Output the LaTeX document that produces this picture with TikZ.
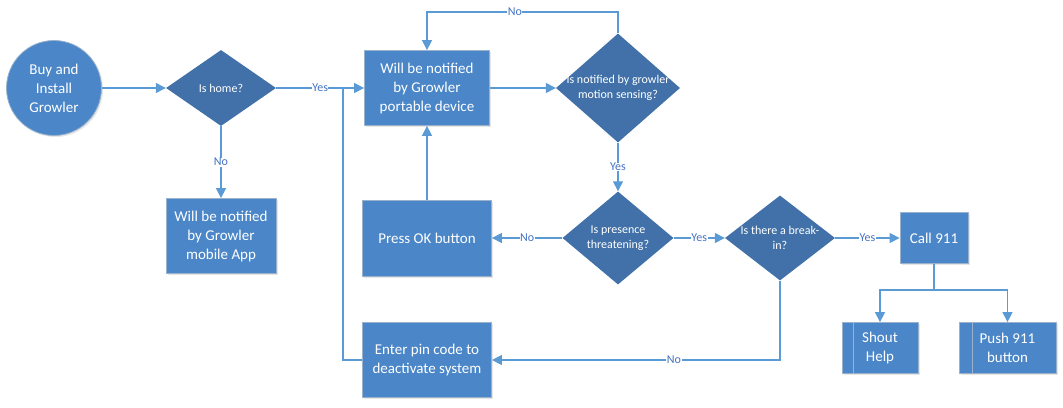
\documentclass[tikz,border=0pt]{standalone}
\usepackage{fontspec}
\setmainfont{Carlito}
\usetikzlibrary{shapes.geometric,arrows.meta,shadows}
\definecolor{boxfill}{RGB}{74,134,200}
\definecolor{boxedge}{RGB}{155,178,205}
\definecolor{diafill}{RGB}{65,113,168}
\definecolor{linec}{RGB}{91,155,213}
\definecolor{labc}{RGB}{68,114,196}
\begin{document}
\begin{tikzpicture}[x=1pt,y=-1pt,
 procbox/.style={rectangle, fill=boxfill, draw=boxedge, line width=0.8pt, text=white, align=center,
   font=\fontsize{15}{19}\selectfont, inner sep=0pt,
   drop shadow={opacity=0.2,shadow xshift=1.5pt,shadow yshift=-1.5pt}},
 startnode/.style={circle, fill=boxfill, draw=boxedge, line width=0.8pt, text=white, align=center,
   font=\fontsize{15}{19}\selectfont, inner sep=0pt,
   drop shadow={opacity=0.2,shadow xshift=1.5pt,shadow yshift=-1.5pt}},
 dia/.style={diamond, fill=diafill, draw=none, inner sep=0pt},
 diatext/.style={text=white, align=center, font=\fontsize{12}{15}\selectfont},
 conn/.style={draw=linec, line width=1.3pt, -{Triangle[length=10pt,width=10pt]}},
 plain/.style={draw=linec, line width=1.3pt},
 elab/.style={fill=white, text=labc, font=\fontsize{12}{14}\selectfont, inner sep=0.5pt}
]
\useasboundingbox (0,0) rectangle (1063,407);

\node[startnode, minimum size=95pt] (start) at (54,88) {Buy and\\Install\\Growler};
\node[dia, minimum width=110pt, minimum height=76pt] (d1) at (221,88) {};
\node[diatext] (t1) at (d1) {Is home?};
\node[procbox, minimum width=110pt, minimum height=75pt] (app) at (221,236) {Will be notified\\by Growler\\mobile App};
\node[procbox, minimum width=125pt, minimum height=75pt] (port) at (427,88) {Will be notified\\by Growler\\portable device};
\node[dia, minimum width=124pt, minimum height=109pt] (d2) at (618,88) {};
\node[diatext] (t2) at (d2) {Is notified by growler\\motion sensing?};
\node[procbox, minimum width=129pt, minimum height=76pt] (ok) at (427,238) {Press OK button};
\node[dia, minimum width=111pt, minimum height=93pt] (d3) at (618,238) {};
\node[diatext] (t3) at (d3) {Is presence\\threatening?};
\node[procbox, minimum width=129pt, minimum height=75pt] (pin) at (427,360) {Enter pin code to\\deactivate system};
\node[dia, minimum width=110pt, minimum height=85pt] (d4) at (780,238) {};
\node[diatext] (t4) at (d4) {Is there a break-\\in?};
\node[procbox, minimum width=68pt, minimum height=51pt] (call) at (934,238) {Call 911};
\node[procbox, minimum width=76pt, minimum height=51pt] (shout) at (880,348) {Shout\\Help};
\node[procbox, minimum width=97pt, minimum height=51pt] (push) at (1007.5,348) {Push 911\\button};
\draw[boxedge, line width=0.8pt] ([xshift=12pt]shout.north west) -- ([xshift=12pt]shout.south west);
\draw[boxedge, line width=0.8pt] ([xshift=14pt]push.north west) -- ([xshift=14pt]push.south west);

\coordinate (j) at (343,88);
\coordinate (br) at (934,290);

\draw[conn] (start) -- (d1);
\draw[conn] (d1) -- node[elab]{No} (app);
\draw[conn] (d1.east) -- node[elab]{Yes} (port.west);
\draw[plain] (pin.west) -| (j);
\draw[conn] (port) -- (d2);
\draw[conn] (d2.north) -- (d2.north |- 0,12) -- node[elab, pos=0.54]{No} (port.north |- 0,12) -- (port.north);
\draw[conn] (d2) -- node[elab]{Yes} (d3);
\draw[conn] (d3) -- node[elab]{No} (ok);
\draw[conn] (ok) -- (port);
\draw[conn] (d3) -- node[elab]{Yes} (d4);
\draw[conn] (d4.south) |- node[elab, pos=0.684]{No} (pin.east);
\draw[conn] (d4) -- node[elab]{Yes} (call);
\draw[plain] (call.south) -- (br);
\draw[conn] (br) -| (shout.north);
\draw[conn] (br) -| (push.north);
\end{tikzpicture}
\end{document}
